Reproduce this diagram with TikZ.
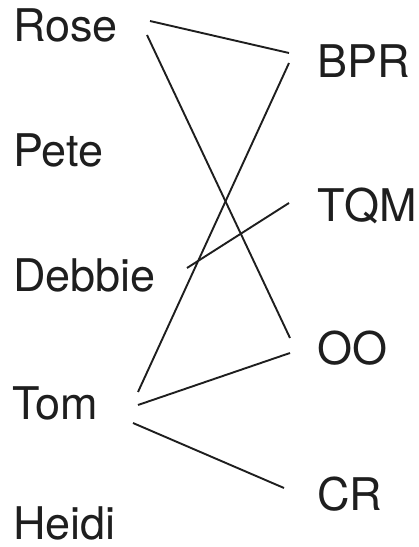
\documentclass[tikz,border=0pt]{standalone}
\usepackage{fontspec}
\setmainfont{TeX Gyre Heros}
\usetikzlibrary{positioning}
\definecolor{ink}{RGB}{30,30,30}

\begin{document}
\begin{tikzpicture}[
  x=1pt, y=1pt,
  person/.style={inner sep=0pt, anchor=base west, text=ink, font=\fontsize{45}{50}\selectfont},
  topic/.style={person},
  link/.style={draw=ink, line width=1.9pt},
]
  \useasboundingbox (0,0) rectangle (419,547);
  % people on the left
  \node[person] (rose) at (13,505) {Rose};
  \node[person] (pete) at (13,380) {Pete};
  \node[person] (debbie) at (13,255) {Debbie};
  \node[person] (tom) at (12,127) {Tom};
  \node[person] (heidi) at (13,7) {Heidi};
  % topics on the right
  \node[topic] (bpr) at (317,469) {BPR};
  \node[topic] (tqm) at (317,325) {TQM};
  \node[topic] (oo) at (317,182) {OO};
  \node[topic] (cr) at (317,37) {CR};
  % links
  \draw[link] ([shift={(137,21)}]rose.base west) -- ([shift={(-28,25)}]bpr.base west);
  \draw[link] ([shift={(134,7)}]rose.base west) -- ([shift={(-27,27)}]oo.base west);
  \draw[link] ([shift={(174,24)}]debbie.base west) -- ([shift={(-28,19)}]tqm.base west);
  \draw[link] ([shift={(126,28)}]tom.base west) -- ([shift={(-28,15)}]bpr.base west);
  \draw[link] ([shift={(126,15)}]tom.base west) -- ([shift={(-27,12)}]oo.base west);
  \draw[link] ([shift={(121,-3)}]tom.base west) -- ([shift={(-33,22)}]cr.base west);
\end{tikzpicture}
\end{document}
